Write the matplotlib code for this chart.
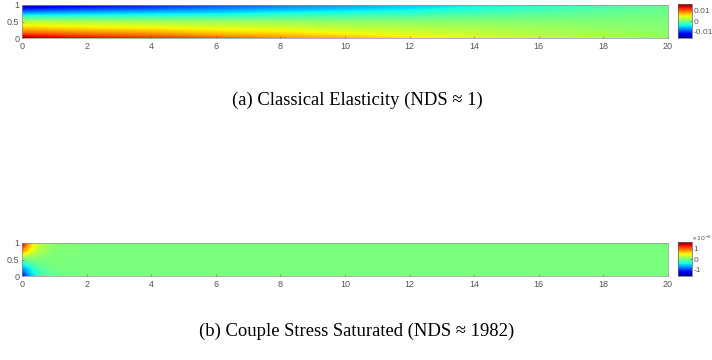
import numpy as np
import matplotlib
matplotlib.use("Agg")
import matplotlib.pyplot as plt
from matplotlib.cm import ScalarMappable
from matplotlib.colors import Normalize

# (a) classical elasticity
xa = [0, 2, 4, 6, 8, 10, 12, 14, 16, 18, 20]
ya = [0, 0.1, 0.25, 0.5, 0.75, 0.9, 1]
za = [  # x 1e-3
    [14.5, 12.5, 11.0, 9.5, 8.0, 6.5, 5.0, 4.0, 3.0, 2.0, 1.0],
    [11.0, 9.5, 8.5, 7.0, 6.0, 5.0, 4.0, 3.0, 2.2, 1.5, 0.8],
    [7.0, 6.0, 5.5, 4.5, 4.0, 3.0, 2.5, 2.0, 1.5, 1.0, 0.5],
    [2.0, 1.5, 1.2, 1.0, 0.8, 0.6, 0.5, 0.4, 0.3, 0.2, 0.1],
    [-7.0, -6.0, -5.5, -5.0, -4.0, -3.5, -3.0, -2.2, -1.5, -1.0, -0.5],
    [-12.0, -10.5, -9.5, -8.0, -7.0, -6.0, -5.0, -3.8, -2.7, -1.7, -0.8],
    [-15.0, -13.0, -11.5, -10.0, -8.5, -7.0, -5.5, -4.2, -3.0, -2.0, -1.0],
]
lim_a = 0.0157
ticks_a = [-0.01, 0, 0.01]

# (b) couple stress saturated, in units of 1e-6
xb = [0, 0.2, 0.5, 1, 2, 20]
yb = [0, 0.25, 0.5, 0.75, 1]
zb = [
    [-1.5, -0.8, -0.3, -0.05, 0, 0],
    [-0.8, -0.5, -0.2, -0.03, 0, 0],
    [-0.1, -0.05, 0, 0, 0, 0],
    [0.8, 0.5, 0.2, 0.03, 0, 0],
    [1.5, 0.8, 0.3, 0.05, 0, 0],
]
lim_b = 1.65
ticks_b = [-1, 0, 1]

captions = ["(a) Classical Elasticity (NDS \u2248 1)",
            "(b) Couple Stress Saturated (NDS \u2248 1982)"]

W, H = 712, 360
fig = plt.figure(figsize=(W / 100, H / 100), dpi=100)
tc = "#555555"
sans = "Liberation Sans"


def px(l, t, w, h):
    return [l / W, 1 - (t + h) / H, w / W, h / H]


def panel(top, x, y, z, scale, lim, ticks, expo=None):
    ax = fig.add_axes(px(22, top, 646, 33))
    z = np.array(z) * scale
    levels = np.linspace(-lim, lim, 257)
    ax.contourf(x, y, z, levels=levels, cmap="jet", extend="both",
                antialiased=False)
    ax.set_xlim(0, 20)
    ax.set_ylim(0, 1)
    ax.set_xticks(range(0, 21, 2))
    ax.set_yticks([0, 0.5, 1])
    ax.set_yticklabels(["0", "0.5", "1"])
    ax.tick_params(labelsize=6.5, colors=tc, direction="in", length=1.5,
                   width=0.4)
    ax.tick_params(axis="x", pad=3)
    ax.tick_params(axis="y", pad=2)
    for lab in ax.get_xticklabels() + ax.get_yticklabels():
        lab.set_family(sans)
    for s in ax.spines.values():
        s.set_linewidth(0.5)
        s.set_color("#909090")

    cax = fig.add_axes(px(678, top - 1, 14, 34))
    sm = ScalarMappable(norm=Normalize(-lim, lim), cmap="jet")
    cb = fig.colorbar(sm, cax=cax, ticks=ticks)
    cb.ax.set_yticklabels([f"{t:g}" for t in ticks], family=sans)
    cb.ax.tick_params(labelsize=6, colors=tc, direction="in", length=1.5,
                      width=0.4, pad=1)
    cb.outline.set_linewidth(0.5)
    cb.outline.set_edgecolor("#606060")
    if expo:
        fig.text(691 / W, 1 - (top - 5) / H, expo, fontsize=4.5, color=tc,
                 ha="left", va="center")
    return ax


panel(5, xa, ya, za, 1e-3, lim_a, ticks_a)
panel(243, xb, yb, zb, 1.0, lim_b, ticks_b, expo=r"$\times10^{-6}$")

for cy, cap in zip([100, 331], captions):
    fig.text(357 / W, 1 - cy / H, cap, fontsize=13.4, ha="center",
             va="center", family="Liberation Serif", color="black")

fig.savefig("out.png", dpi=100)
